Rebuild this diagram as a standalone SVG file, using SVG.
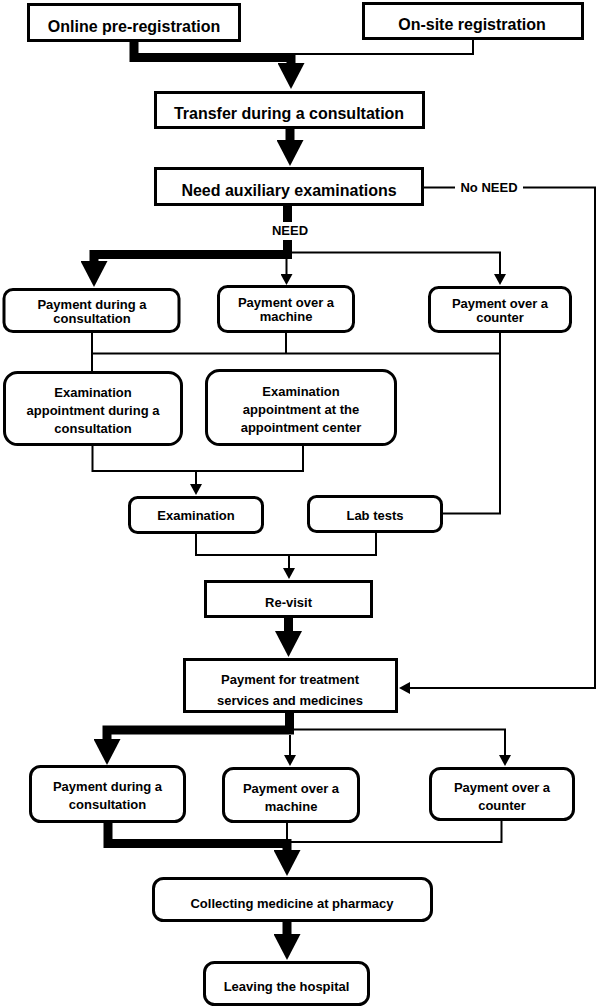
<svg xmlns="http://www.w3.org/2000/svg" width="598" height="1008" viewBox="0 0 598 1008">
<style>
.box{fill:#fff;stroke:#000;stroke-width:3}
.t{font-family:"Liberation Sans",Arial,sans-serif;font-weight:bold;font-size:13px;text-anchor:middle;fill:#000}
.tl{font-size:16px}
.thick{fill:none;stroke:#000;stroke-width:9;stroke-linejoin:miter}
.thin{fill:none;stroke:#000;stroke-width:2;stroke-linejoin:miter}
</style>
<defs>
<marker id="ah" markerUnits="userSpaceOnUse" markerWidth="26" markerHeight="27" viewBox="0 0 26 27" refX="0" refY="13.5" orient="auto">
<path d="M0,0 L26,13.5 L0,27 Z" fill="#000"/>
</marker>
<marker id="as" markerUnits="userSpaceOnUse" markerWidth="11" markerHeight="12" viewBox="0 0 11 12" refX="0" refY="6" orient="auto">
<path d="M0,0 L11,6 L0,12 Z" fill="#000"/>
</marker>
</defs>
<rect width="598" height="1008" fill="#fff"/>
<g id="connectors">
<path class="thin" d="M473 40 V54 H291"/>
<path class="thick" d="M134 42 V57.5 H291 V63" marker-end="url(#ah)"/>
<path class="thick" d="M290 129 V140" marker-end="url(#ah)"/>
<path class="thick" d="M287.5 206 V222"/>
<text class="t" x="290" y="235">NEED</text>
<path class="thin" d="M292 252.5 H500 V274" marker-end="url(#as)"/>
<path class="thin" d="M286.5 259 V274" marker-end="url(#as)"/>
<path class="thick" d="M287.5 240 V254.5 H94 V261" marker-end="url(#ah)"/>
<path class="thin" d="M423 187.5 H455"/>
<text class="t" x="489" y="192">No NEED</text>
<path class="thin" d="M523 187.5 H595 V688 H410" marker-end="url(#as)"/>
<path class="thin" d="M92 333 V371"/>
<path class="thin" d="M286 333 V353.5"/>
<path class="thin" d="M500 333 V513.5 H443"/>
<path class="thin" d="M92 353.5 H500"/>
<path class="thin" d="M92.5 446 V471 H303 V446"/>
<path class="thin" d="M196 471 V484" marker-end="url(#as)"/>
<path class="thin" d="M196 534 V555 H376 V533"/>
<path class="thin" d="M289 555 V568" marker-end="url(#as)"/>
<path class="thick" d="M288.5 618 V631" marker-end="url(#ah)"/>
<path class="thin" d="M293 729.5 H505 V755" marker-end="url(#as)"/>
<path class="thin" d="M290 735 V755" marker-end="url(#as)"/>
<path class="thick" d="M289.5 713 V730 H107 V739" marker-end="url(#ah)"/>
<path class="thin" d="M287 823 V842"/>
<path class="thin" d="M501.5 821 V842 H290"/>
<path class="thick" d="M108 823 V843.5 H287 V850" marker-end="url(#ah)"/>
<path class="thick" d="M287 922 V934" marker-end="url(#ah)"/>
</g>
<g id="online">
<rect class="box" x="28.5" y="4.5" width="211" height="36"/>
<text class="t tl" x="134" y="32">Online pre-registration</text>
</g>
<g id="onsite">
<rect class="box" x="363.5" y="3.5" width="219" height="35"/>
<text class="t tl" x="472" y="30">On-site registration</text>
</g>
<g id="transfer">
<rect class="box" x="155.5" y="92.5" width="268" height="35"/>
<text class="t tl" x="289" y="119">Transfer during a consultation</text>
</g>
<g id="need">
<rect class="box" x="155.5" y="168.5" width="267" height="36"/>
<text class="t tl" x="289" y="195.5">Need auxiliary examinations</text>
</g>
<g id="pdc1">
<rect class="box" x="4" y="289.5" width="175" height="42" rx="9"/>
<text class="t" x="92" y="309">Payment during a</text>
<text class="t" x="92" y="323">consultation</text>
</g>
<g id="pom1">
<rect class="box" x="218.5" y="286.5" width="135" height="45" rx="9"/>
<text class="t" x="286" y="307">Payment over a</text>
<text class="t" x="286" y="321">machine</text>
</g>
<g id="poc1">
<rect class="box" x="429.5" y="287.5" width="141" height="44" rx="9"/>
<text class="t" x="500" y="308">Payment over a</text>
<text class="t" x="500" y="322">counter</text>
</g>
<g id="exa1">
<rect class="box" x="4.5" y="372.5" width="177" height="72" rx="13"/>
<text class="t" x="93" y="397">Examination</text>
<text class="t" x="93" y="415">appointment during a</text>
<text class="t" x="93" y="433">consultation</text>
</g>
<g id="exa2">
<rect class="box" x="206.5" y="370.5" width="189" height="74" rx="13"/>
<text class="t" x="301" y="396">Examination</text>
<text class="t" x="301" y="414">appointment at the</text>
<text class="t" x="301" y="432">appointment center</text>
</g>
<g id="exam">
<rect class="box" x="129.5" y="497.5" width="133" height="35" rx="8"/>
<text class="t" x="196" y="520">Examination</text>
</g>
<g id="lab">
<rect class="box" x="308.5" y="496.5" width="133" height="35" rx="8"/>
<text class="t" x="375" y="519.5">Lab tests</text>
</g>
<g id="revisit">
<rect class="box" x="205.5" y="581.5" width="166" height="35"/>
<text class="t" x="288.5" y="607">Re-visit</text>
</g>
<g id="paytreat">
<rect class="box" x="184.5" y="659.5" width="212" height="52"/>
<text class="t" x="290" y="684">Payment for treatment</text>
<text class="t" x="290" y="704.5">services and medicines</text>
</g>
<g id="pdc2">
<rect class="box" x="30.5" y="766.5" width="154" height="55" rx="10"/>
<text class="t" x="107.5" y="791">Payment during a</text>
<text class="t" x="107.5" y="809">consultation</text>
</g>
<g id="pom2">
<rect class="box" x="223.5" y="768.5" width="135" height="53" rx="10"/>
<text class="t" x="291" y="793">Payment over a</text>
<text class="t" x="291" y="811">machine</text>
</g>
<g id="poc2">
<rect class="box" x="430.5" y="768.5" width="143" height="51" rx="10"/>
<text class="t" x="502" y="792">Payment over a</text>
<text class="t" x="502" y="810">counter</text>
</g>
<g id="collect">
<rect class="box" x="153.5" y="878.5" width="278" height="42" rx="10"/>
<text class="t" x="292" y="908">Collecting medicine at pharmacy</text>
</g>
<g id="leave">
<rect class="box" x="204.5" y="962.5" width="164" height="42" rx="10"/>
<text class="t" x="286.5" y="991">Leaving the hospital</text>
</g>
</svg>
